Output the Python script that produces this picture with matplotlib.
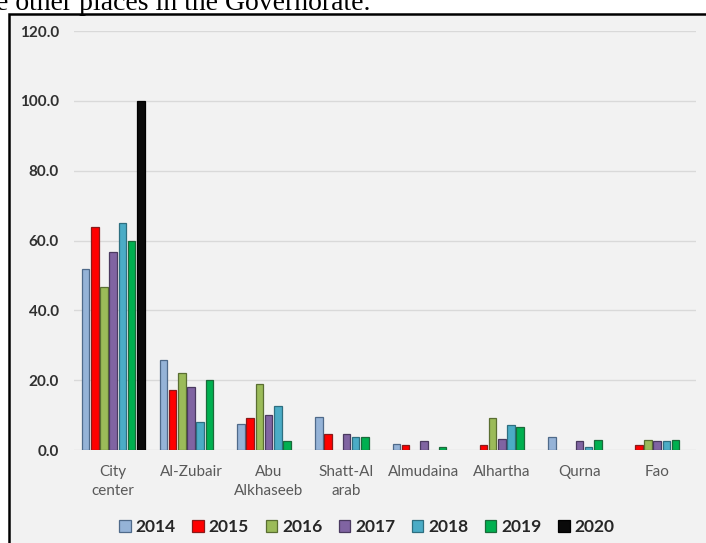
import matplotlib
matplotlib.use("Agg")
import matplotlib.pyplot as plt
import numpy as np
from matplotlib.patches import Patch, Rectangle

categories = ["City\ncenter", "Al-Zubair", "Abu\nAlkhaseeb", "Shatt-Al\narab",
              "Almudaina", "Alhartha", "Qurna", "Fao"]
years = ["2014", "2015", "2016", "2017", "2018", "2019", "2020"]
v2014 = [52.0, 25.8, 7.4, 9.4, 1.7, 0.0, 3.6, 0.0]
v2015 = [64.0, 17.2, 9.3, 4.6, 1.3, 1.3, 0.0, 1.3]
v2016 = [46.8, 22.0, 18.9, 0.0, 0.0, 9.3, 0.0, 3.0]
v2017 = [56.7, 18.1, 10.1, 4.6, 2.5, 3.2, 2.5, 2.5]
v2018 = [64.9, 8.0, 12.7, 3.8, 0.0, 7.3, 0.9, 2.5]
v2019 = [60.0, 20.1, 2.7, 3.8, 1.0, 6.5, 2.8, 2.8]
v2020 = [100.0, 0.0, 0.0, 0.0, 0.0, 0.0, 0.0, 0.0]
series = [v2014, v2015, v2016, v2017, v2018, v2019, v2020]
colors = ["#95b3d7", "#ff0000", "#9bbb59", "#8064a2", "#4bacc6", "#00b050", "#0a0a0a"]
edges = ["#4f6a8a", "#8a1a1a", "#5a6e32", "#4a3a60", "#2e6f80", "#1a6a3a", "#000000"]
yticks = [0, 20, 40, 60, 80, 100, 120]

W, H = 706, 543
fig = plt.figure(figsize=(W / 100, H / 100), dpi=100)
fig.patch.set_facecolor("white")

# background axes holding the chart frame and the cut-off caption
bg = fig.add_axes([0, 0, 1, 1], zorder=-5)
bg.set_xlim(0, W)
bg.set_ylim(H, 0)
bg.axis("off")
bg.add_patch(Rectangle((8.5, 13.5), W, H, facecolor="#f2f2f2", edgecolor="black",
                       linewidth=1.8))
bg.text(-4, 10.5, "e other places in the Governorate.", fontsize=20,
        family="Liberation Serif", ha="left", va="baseline", color="black", clip_on=False)

ax = fig.add_axes([74.4 / W, (H - 450) / H, 621.6 / W, 418.8 / H])
ax.set_facecolor("none")
x = np.arange(len(categories))
slot = 9.2 / 77.7
bw = 7.6 / 77.7
n = len(series)
for i, (vals, c, e) in enumerate(zip(series, colors, edges)):
    vals = np.array(vals)
    mask = vals > 0
    off = (i - (n - 1) / 2) * slot
    ax.bar(x[mask] + off, vals[mask], width=bw, color=c, edgecolor=e, linewidth=0.9,
           zorder=3)

ax.set_xlim(-0.5, len(categories) - 0.5)
ax.set_ylim(0, 120)
ax.set_yticks(yticks)
ax.set_yticklabels([f"{t:.1f}" for t in yticks], fontsize=11, fontweight="bold",
                   color="#303030", family="Lato")
ax.yaxis.grid(True, color="#d9d9d9", linewidth=1.0, zorder=0)
ax.set_axisbelow(True)
ax.tick_params(axis="y", length=0, pad=11)
ax.tick_params(axis="x", length=0, pad=11)
ax.set_xticks(x)
ax.set_xticklabels(categories, fontsize=11, color="#595959", family="Lato",
                   linespacing=1.4)
for s in ax.spines.values():
    s.set_visible(False)

handles = [Patch(facecolor=c, edgecolor=e, linewidth=0.9) for c, e in zip(colors, edges)]
leg = fig.legend(handles, years, loc="center", bbox_to_anchor=(367 / W, 1 - 527 / H),
                 ncol=7, frameon=False, handlelength=0.65, handleheight=0.65,
                 handletextpad=0.3, columnspacing=0.95,
                 prop={"family": "Lato", "weight": "bold", "size": 12.5})
for t in leg.get_texts():
    t.set_color("#262626")

fig.savefig("out.png", dpi=100, facecolor=fig.get_facecolor())
